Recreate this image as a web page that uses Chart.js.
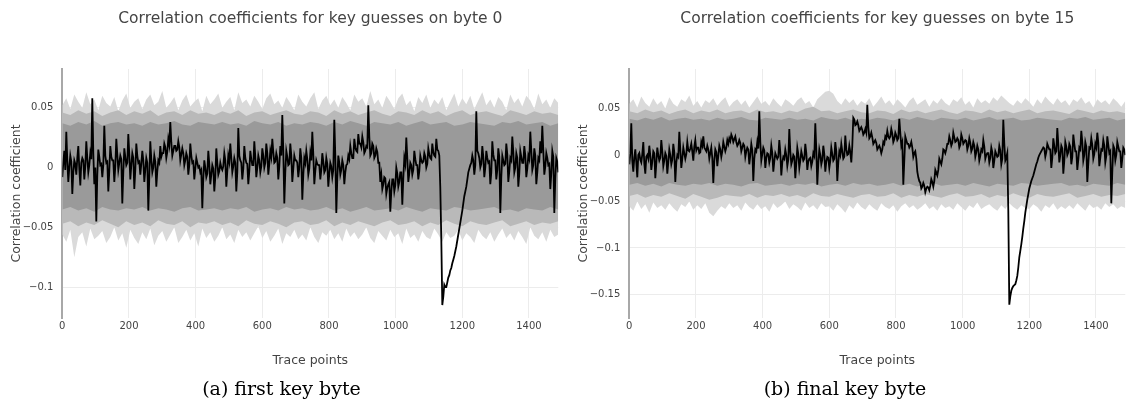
<!DOCTYPE html>
<html>
<head>
<meta charset="utf-8">
<script src="https://cdn.jsdelivr.net/npm/chart.js@4.4.1/dist/chart.umd.min.js"></script>
<style>
  body { margin: 0; background: #fff; width: 1127px; height: 405px; overflow: hidden; position: relative; }
  .panel { position: absolute; top: 0; height: 380px; }
  .caption { position: absolute; top: 376px; height: 24px; line-height: 24px; text-align: center;
             font-family: "DejaVu Serif", serif; font-size: 19px; color: #000; }
</style>
</head>
<body>
<div class="panel" style="left:0;width:563px"><canvas id="byte0Chart"></canvas></div>
<div class="panel" style="left:563px;width:564px"><canvas id="byte15Chart"></canvas></div>
<div class="caption" style="left:0;width:563px">(a) first key byte</div>
<div class="caption" style="left:563px;width:564px">(b) final key byte</div>
<script>
// sample spacing (trace points): key samples at 0,6,12.. and half-step samples at 3,9,15..
const TRACE_STEP = 6;
const BAND_STEP = 24;
const FRINGE_STEP = 12;

const xTickValues = [0, 200, 400, 600, 800, 1000, 1200, 1400];
const byte0YTicks = [-0.1, -0.05, 0, 0.05];
const byte15YTicks = [-0.15, -0.1, -0.05, 0, 0.05];

// all correlation values are in units of 1e-3

// byte 0: correct key guess (black)
const byte0Key = [
  -8, 14, 30, -12, 10, -22, 6, -6, 18, -15,
  8, -10, 22, -4, 12, 58, -14, -45, 15, 2,
  -8, 35, 4, -20, 18, 6, -12, 24, -2, 10,
  -30, 16, 2, 28, -10, 12, -18, 20, 4, -6,
  14, -12, 8, -36, 22, -4, 10, -16, 6, 18,
  12, 20, 8, 24, 38, 10, 18, 14, 22, 6,
  16, 2, 12, -6, 20, 4, -10, 8, 0, -4,
  -34, 6, -8, 14, -14, 2, -20, 16, -6, 4,
  -2, 12, -16, 10, 20, -4, 8, -20, 33, 6,
  -10, 18, 4, -14, 14, 2, 22, -8, 10, -4,
  16, 0, 20, -6, 14, 24, 4, 12, -10, 18,
  44, -30, 14, 2, 20, -12, 10, 6, -8, 16,
  -27, 8, 14, -6, 12, 30, -14, 6, 2, -10,
  12, -4, 8, -16, 4, -8, 40, -38, 10, -6,
  6, -14, 2, 10, 18, 8, 24, 14, 28, 20,
  26, 12, 18, 52, 10, 20, 8, 16, 4, -12,
  -18, -8, -22, -14, -37, -10, -20, 0, -16, -4,
  -31, 8, 25, -12, 4, -6, 14, 2, -10, 10,
  4, 12, 0, 16, 8, 20, 10, 24, 14, -17,
  -115, -98, -100, -92, -86, -80, -74, -66, -56, -46,
  -36, -24, -16, -4, 2, 10, -6, 47, 12, 0,
  18, -8, 14, 4, -14, 22, 6, -10, 16, -38,
  10, 2, 20, -12, 8, 26, -4, 12, -16, 14,
  4, 18, -8, 10, 30, -2, 16, -14, 8, 22,
  35, -6, 12, 2, -18, 14, -38, 8, -4
];
const byte0KeyHalf = [
  4, -2, 6, 0, 5, -4, 3, 8, -1, 4,
  6, 1, 8, 2, 7, 12, 0, -6, 9, 3,
  2, 10, 5, -3, 9, 6, 1, 11, 4, 7,
  -4, 9, 4, 11, 2, 8, -2, 10, 5, 3,
  6, -2, 4, -8, 7, 0, 5, -3, 4, 9,
  12, 17, 13, 19, 21, 14, 18, 15, 17, 11,
  12, 6, 9, 2, 10, 5, -1, 4, 1, -2,
  -9, 0, -5, 3, -6, -1, -8, 4, -3, 0,
  1, 6, -3, 5, 8, 1, 4, -4, 10, 4,
  -1, 8, 3, -3, 7, 2, 9, 0, 6, 1,
  10, 4, 12, 3, 9, 13, 5, 8, 1, 10,
  14, -4, 9, 3, 10, -1, 6, 4, 0, 8,
  -6, 4, 7, -1, 6, 11, -3, 3, 2, -2,
  5, -2, 3, -5, 1, -2, 10, -9, 4, -2,
  2, -4, 3, 7, 12, 8, 17, 13, 20, 17,
  21, 14, 17, 26, 12, 18, 10, 13, 4, -6,
  -14, -9, -17, -12, -20, -10, -15, -5, -12, -4,
  -9, 3, 8, -5, 2, -2, 7, 2, -3, 6,
  5, 9, 3, 11, 7, 13, 9, 15, 10, -60,
  -108, -100, -96, -90, -84, -77, -70, -61, -51, -41,
  -30, -20, -10, -1, 4, 6, 2, 14, 8, 3,
  9, 0, 8, 5, -4, 11, 6, -2, 9, -8,
  6, 3, 11, -3, 6, 13, 0, 8, -5, 9,
  4, 10, -1, 7, 14, 2, 10, -4, 6, 12,
  14, 1, 8, 3, -5, 9, -9, 5
];
// byte 0: wrong guesses, dense core of the grey band
const byte0CoreHigh = [
  37, 35, 38, 36, 39, 35, 37, 38, 36, 37, 35, 38, 36, 37, 39, 36, 35, 38, 37, 36,
  38, 36, 37, 35, 39, 37, 36, 38, 35, 37, 36, 38, 37, 35, 38, 36, 39, 37, 35, 38,
  37, 36, 38, 35, 37, 39, 36, 37, 38, 35, 36, 38, 37, 36, 35, 38, 37, 39, 36, 37,
  38, 35, 37
];
const byte0CoreLow = [
  -35, -33, -36, -34, -37, -33, -35, -36, -34, -35, -33, -36, -34, -35, -37, -34, -33, -36, -35, -34,
  -36, -34, -35, -33, -37, -35, -34, -36, -33, -35, -34, -36, -35, -33, -36, -34, -37, -35, -33, -36,
  -35, -34, -36, -33, -35, -37, -34, -35, -36, -33, -34, -36, -35, -34, -33, -36, -35, -37, -34, -35,
  -36, -33, -35
];
// byte 0: intermediate edge of the grey band
const byte0MidHigh = [
  46, 44, 48, 45, 47, 43, 46, 48, 44, 47, 45, 48, 43, 46, 47, 44, 48, 45, 46, 44,
  47, 45, 48, 43, 46, 47, 44, 46, 48, 45, 44, 47, 46, 43, 48, 45, 47, 44, 46, 48,
  45, 43, 47, 46, 44, 48, 45, 47, 43, 46, 48, 44, 46, 47, 45, 43, 48, 46, 44, 47,
  45, 46, 44
];
const byte0MidLow = [
  -47, -45, -49, -46, -48, -44, -47, -50, -45, -48, -46, -49, -44, -47, -48, -45, -50, -46, -47, -45,
  -48, -46, -49, -44, -47, -48, -45, -47, -50, -46, -45, -48, -47, -44, -49, -46, -48, -45, -47, -49,
  -46, -44, -48, -47, -45, -49, -46, -48, -44, -47, -49, -45, -47, -48, -46, -44, -49, -47, -45, -48,
  -46, -47, -45
];
// byte 0: outer spikes of the grey band
const byte0FringeHigh = [
  52, 58, 49, 61, 55, 50, 63, 53, 57, 48, 60, 54, 51, 59, 47, 56, 62, 50, 55, 58,
  49, 57, 61, 52, 55, 64, 50, 54, 59, 48, 56, 61, 51, 55, 58, 47, 60, 53, 57, 62,
  50, 55, 59, 48, 63, 54, 57, 51, 60, 55, 49, 58, 62, 53, 56, 50, 59, 54, 48, 61,
  55, 51, 58, 63, 49, 56, 60, 52, 57, 50, 59, 54, 48, 61, 55, 58, 51, 64, 53, 57,
  50, 60, 55, 49, 58, 62, 52, 56, 47, 59, 54, 61, 50, 57, 53, 59, 48, 55, 62, 51,
  58, 53, 60, 49, 56, 63, 52, 57, 50, 59, 55, 48, 61, 54, 58, 51, 60, 56, 49, 62,
  53, 57, 50, 58, 54
];
const byte0FringeLow = [
  -56, -62, -52, -75, -58, -54, -66, -51, -60, -57, -53, -63, -58, -50, -61, -55, -67, -52, -59, -64,
  -54, -60, -51, -65, -57, -53, -62, -56, -50, -63, -58, -52, -61, -55, -66, -51, -59, -54, -62, -57,
  -50, -60, -56, -63, -52, -58, -54, -61, -55, -49, -59, -53, -62, -57, -51, -64, -55, -58, -52, -60,
  -56, -61, -50, -58, -63, -54, -57, -52, -60, -55, -62, -51, -58, -54, -60, -56, -50, -59, -63, -53,
  -57, -61, -52, -58, -55, -64, -51, -59, -56, -62, -53, -58, -60, -51, -56, -62, -54, -59, -57, -52,
  -61, -55, -58, -63, -52, -57, -60, -54, -62, -56, -51, -59, -55, -61, -53, -58, -64, -50, -57, -60,
  -54, -62, -52, -58, -56
];

// byte 15: correct key guess (black)
const byte15Key = [
  -10, 34, -18, 6, -24, 2, -8, 14, -20, 0,
  10, -16, 4, -25, 8, -6, 16, -12, 2, -20,
  6, -10, 12, -29, 0, 25, -14, 8, -4, 14,
  4, 12, -6, 16, 8, 2, 14, 20, 6, 10,
  -4, 8, -30, 6, -12, 10, -2, 14, 4, 16,
  18, 22, 14, 20, 10, 16, 4, 12, -2, 8,
  -10, 12, -28, 6, 14, 47, -6, 8, -14, 2,
  -8, 10, -18, 2, -4, 16, -22, -2, 6, -12,
  28, -10, 0, -25, 8, -14, 4, -6, 12, -16,
  -4, -12, 2, 34, -32, 6, -10, 10, -18, -2,
  -14, 8, -6, 14, -28, 4, 12, -4, 21, 0,
  10, -8, 40, 32, 36, 26, 30, 22, 28, 54,
  18, 24, 12, 16, 6, 10, 2, 14, 20, 26,
  18, 28, 14, 24, 16, 39, 10, -32, 20, 12,
  8, 14, -2, 4, -18, -28, -36, -30, -40, -34,
  -38, -26, -34, -16, -22, -4, -10, 6, 2, 12,
  20, 10, 24, 14, 18, 8, 22, 12, 16, 6,
  18, 4, 14, -2, 10, -6, 6, 16, -4, 2,
  -8, 8, -14, 4, -2, 10, -10, 38, -6, 2,
  -161, -146, -141, -139, -130, -110, -96, -79, -62, -48,
  -36, -28, -22, -14, -7, 0, 4, 8, -2, 12,
  6, -14, 18, 2, 29, -8, 10, -20, 14, 0,
  12, -10, 22, 4, -16, 8, 26, -6, 14, -29,
  8, 18, -4, 12, 24, -12, 6, 16, -8, 20,
  2, -52, 10, -6, 14, 4, -14, 8, 0
];
const byte15KeyHalf = [
  2, -6, -3, -8, 0, -5, 1, -9, -2, -4,
  -1, -7, 2, -9, 0, -3, 4, -6, -1, -8,
  0, -5, 3, -8, -2, 6, -4, 2, 1, 5,
  7, 4, 9, 5, 8, 3, 10, 8, 4, 6,
  2, -3, -6, 3, -1, 6, 4, 9, 8, 12,
  15, 19, 17, 14, 12, 13, 8, 10, 4, 6,
  0, 5, -4, 4, 7, 14, 1, 5, -3, 1,
  -3, 2, -7, -1, -2, 3, -8, -4, 0, -5,
  4, -6, -2, -9, 1, -6, -1, -4, 2, -7,
  -3, -7, -1, 6, -9, 0, -5, 1, -7, -3,
  -6, 1, -4, 4, -8, 0, 4, -2, 6, 1,
  3, 10, 38, 33, 32, 28, 27, 24, 24, 30,
  20, 19, 14, 13, 8, 7, 6, 12, 18, 20,
  20, 23, 17, 21, 18, 24, 14, -6, 16, 12,
  10, 8, 2, -4, -24, -30, -34, -33, -36, -35,
  -33, -29, -28, -19, -16, -7, -4, 5, 6, 12,
  16, 13, 19, 15, 16, 11, 18, 14, 15, 10,
  13, 7, 10, 3, 6, -1, 4, 9, 0, 2,
  -3, 3, -6, 1, -1, 5, -4, 12, -3, -60,
  -152, -143, -140, -135, -121, -103, -88, -71, -55, -42,
  -32, -25, -18, -10, -3, 2, 6, 7, 3, 9,
  6, -3, 10, 4, 12, 0, 7, -6, 9, 3,
  9, -2, 12, 4, -5, 6, 14, 0, 9, -9,
  7, 11, 1, 8, 13, -3, 5, 10, -1, 11,
  4, -18, 7, 0, 9, 4, -4, 6
];
const byte15CoreHigh = [
  39, 37, 40, 38, 41, 37, 39, 40, 38, 39, 37, 40, 38, 39, 41, 38, 37, 40, 39, 38,
  40, 38, 39, 37, 41, 39, 38, 40, 37, 39, 38, 40, 39, 37, 40, 38, 41, 39, 37, 40,
  39, 38, 40, 37, 39, 41, 38, 39, 40, 37, 38, 40, 39, 38, 37, 40, 39, 41, 38, 39,
  40, 37, 39
];
const byte15CoreLow = [
  -32, -30, -33, -31, -34, -30, -32, -33, -31, -32, -30, -33, -31, -32, -34, -31, -30, -33, -32, -31,
  -33, -31, -32, -30, -34, -32, -31, -33, -30, -32, -31, -33, -32, -30, -33, -31, -34, -32, -30, -33,
  -32, -31, -33, -30, -32, -34, -31, -32, -33, -30, -31, -33, -32, -31, -30, -33, -32, -34, -31, -32,
  -33, -30, -32
];
const byte15MidHigh = [
  47, 45, 49, 46, 48, 44, 47, 49, 45, 48, 46, 49, 45, 47, 48, 45, 49, 46, 47, 45,
  48, 46, 50, 52, 47, 48, 45, 47, 49, 46, 45, 48, 47, 44, 49, 46, 48, 45, 47, 49,
  46, 44, 48, 47, 45, 49, 46, 48, 45, 47, 49, 45, 47, 48, 46, 44, 49, 47, 45, 48,
  46, 47, 45
];
const byte15MidLow = [
  -44, -42, -46, -43, -45, -41, -44, -47, -42, -45, -48, -46, -43, -44, -45, -42, -46, -43, -44, -42,
  -45, -43, -46, -41, -44, -45, -42, -44, -46, -43, -42, -45, -44, -41, -46, -43, -45, -42, -44, -46,
  -43, -41, -45, -44, -42, -46, -43, -45, -41, -44, -46, -42, -44, -45, -43, -41, -46, -44, -42, -45,
  -43, -44, -42
];
const byte15FringeHigh = [
  55, 60, 51, 63, 56, 52, 61, 54, 58, 50, 62, 55, 52, 60, 57, 64, 53, 58, 51, 59,
  56, 61, 53, 58, 62, 52, 57, 60, 54, 59, 51, 57, 63, 55, 58, 53, 61, 56, 52, 60,
  57, 53, 59, 62, 55, 58, 51, 60, 64, 68, 69, 66, 58, 54, 61, 56, 60, 53, 58, 55,
  61, 52, 57, 63, 55, 59, 53, 60, 56, 51, 58, 62, 54, 57, 60, 52, 59, 55, 61, 56,
  53, 60, 57, 62, 54, 58, 51, 61, 56, 59, 55, 62, 58, 64, 60, 56, 53, 59, 55, 61,
  57, 52, 60, 55, 63, 58, 54, 61, 56, 59, 53, 60, 57, 62, 55, 58, 51, 60, 56, 59,
  54, 61, 57, 52, 58
];
const byte15FringeLow = [
  -55, -60, -50, -58, -53, -62, -51, -57, -54, -59, -52, -57, -61, -53, -56, -50, -59, -54, -58, -52,
  -62, -66, -60, -55, -58, -52, -57, -54, -60, -51, -56, -59, -53, -58, -55, -61, -52, -57, -54, -50,
  -58, -53, -56, -60, -51, -57, -54, -59, -52, -56, -55, -60, -53, -57, -62, -54, -58, -51, -56, -59,
  -53, -57, -60, -52, -56, -58, -54, -61, -55, -52, -57, -54, -59, -56, -52, -58, -55, -60, -53, -57,
  -55, -59, -52, -56, -60, -54, -57, -51, -58, -55, -53, -57, -60, -54, -58, -52, -56, -59, -54, -57,
  -58, -53, -56, -61, -54, -57, -52, -59, -55, -58, -54, -58, -52, -56, -60, -53, -57, -55, -59, -52,
  -56, -53, -58, -55, -57
];

const FONT = 'DejaVu Sans';
const TEXT_COLOR = '#444';

function toPoints(vals, step) {
  return vals.map((v, i) => ({ x: i * step, y: v / 1000 }));
}

// merge key samples (0,6,12..) with half-step samples (3,9,15..)
function keyPoints(main, half) {
  const pts = [];
  main.forEach((v, i) => {
    pts.push({ x: i * TRACE_STEP, y: v / 1000 });
    if (i < half.length) pts.push({ x: i * TRACE_STEP + TRACE_STEP / 2, y: half[i] / 1000 });
  });
  return pts;
}

function fmtTick(v) {
  return String(v).replace('-', '\u2212');
}

function buildChart(canvasId, cfg) {
  const ctx = document.getElementById(canvasId);
  if (!ctx) return null;

  const band = (vals, step, color, fillTo, order) => ({
    data: toPoints(vals, step),
    backgroundColor: color,
    borderWidth: 0,
    fill: fillTo,
    order
  });

  return new Chart(ctx, {
    type: 'line',
    data: {
      datasets: [
        { data: keyPoints(cfg.key, cfg.keyHalf), borderColor: '#000', borderWidth: 1.8, borderJoinStyle: 'miter', fill: false, order: 0 },
        band(cfg.coreHigh, BAND_STEP, '#9a9a9a', 2, 1),
        band(cfg.coreLow, BAND_STEP, '#9a9a9a', false, 1),
        band(cfg.midHigh, BAND_STEP, '#b9b9b9', 4, 2),
        band(cfg.midLow, BAND_STEP, '#b9b9b9', false, 2),
        band(cfg.fringeHigh, FRINGE_STEP, '#dadada', 6, 3),
        band(cfg.fringeLow, FRINGE_STEP, '#dadada', false, 3)
      ]
    },
    options: {
      responsive: true,
      maintainAspectRatio: false,
      animation: false,
      events: [],
      layout: { padding: { left: 0, right: cfg.padRight, top: 0, bottom: 0 } },
      elements: { point: { radius: 0 }, line: { tension: 0 } },
      plugins: {
        legend: { display: false },
        tooltip: { enabled: false },
        title: {
          display: true,
          text: cfg.title,
          fullSize: false,
          color: TEXT_COLOR,
          font: { family: FONT, size: 15.5, weight: 'normal' },
          padding: { top: 9.7, bottom: 40.7 }
        }
      },
      scales: {
        x: {
          type: 'linear',
          min: 0,
          max: 1488,
          afterBuildTicks: (s) => { s.ticks = xTickValues.map(v => ({ value: v })); },
          afterFit: (s) => { s.height = 62; },
          grid: { color: '#ececec', drawTicks: false },
          border: { display: false },
          ticks: { color: TEXT_COLOR, font: { family: FONT, size: 10 }, padding: 2, maxRotation: 0, callback: v => String(v) },
          title: {
            display: true, text: 'Trace points', color: TEXT_COLOR,
            font: { family: FONT, size: 12.5 }, padding: { top: 0, bottom: 11.5 }
          }
        },
        y: {
          min: cfg.yMin,
          max: cfg.yMax,
          afterBuildTicks: (s) => { s.ticks = cfg.yTicks.map(v => ({ value: v })); },
          afterFit: (s) => { s.width = cfg.yWidth; },
          grid: { color: '#ececec', drawTicks: false },
          border: { color: '#a8a8a8', width: 2 },
          ticks: { color: TEXT_COLOR, font: { family: FONT, size: 10 }, padding: 9, callback: fmtTick },
          title: {
            display: true, text: 'Correlation coefficient', color: TEXT_COLOR,
            font: { family: FONT, size: 12.5 }, padding: { top: cfg.yTitlePad, bottom: 0 }
          }
        }
      }
    }
  });
}

buildChart('byte0Chart', {
  title: 'Correlation coefficients for key guesses on byte 0',
  key: byte0Key, keyHalf: byte0KeyHalf,
  coreHigh: byte0CoreHigh, coreLow: byte0CoreLow,
  midHigh: byte0MidHigh, midLow: byte0MidLow,
  fringeHigh: byte0FringeHigh, fringeLow: byte0FringeLow,
  yTicks: byte0YTicks, yMin: -0.1258, yMax: 0.0824,
  yWidth: 62.3, yTitlePad: 9, padRight: 4.7
});

buildChart('byte15Chart', {
  title: 'Correlation coefficients for key guesses on byte 15',
  key: byte15Key, keyHalf: byte15KeyHalf,
  coreHigh: byte15CoreHigh, coreLow: byte15CoreLow,
  midHigh: byte15MidHigh, midLow: byte15MidLow,
  fringeHigh: byte15FringeHigh, fringeLow: byte15FringeLow,
  yTicks: byte15YTicks, yMin: -0.1753, yMax: 0.0925,
  yWidth: 66.3, yTitlePad: 13, padRight: 1.7
});
</script>
</body>
</html>
